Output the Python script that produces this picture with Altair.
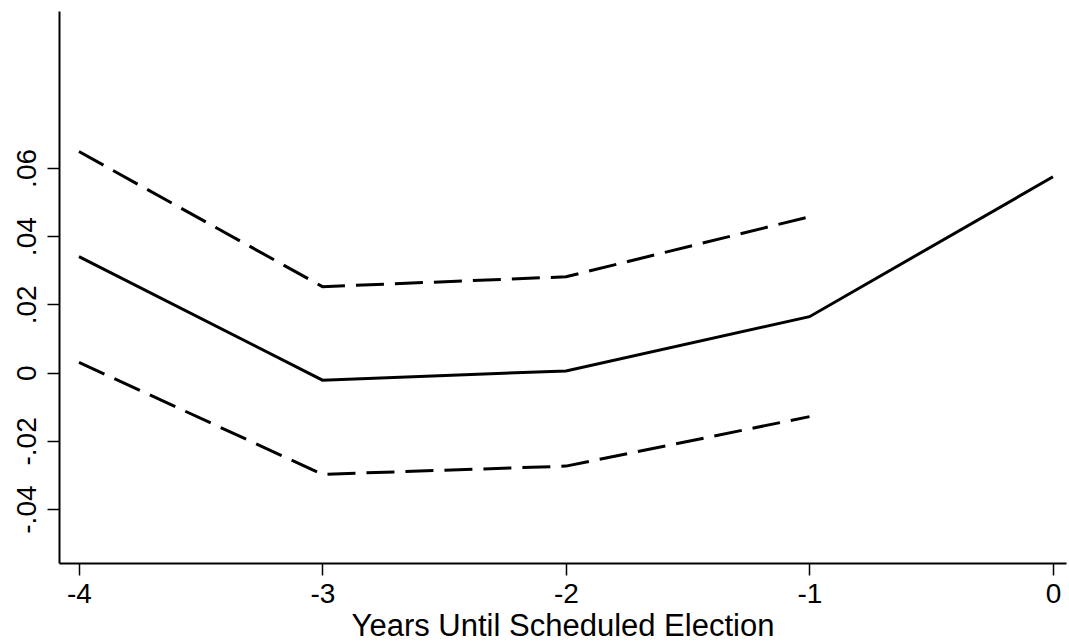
import altair as alt
import pandas as pd

years = [-4, -3, -2, -1, 0]
estimate = [0.0340, -0.0022, 0.0005, 0.0164, 0.0574]
ci_years = [-4, -3, -2, -1]
upper = [0.0648, 0.0252, 0.0281, 0.0457]
lower = [0.0030, -0.0298, -0.0274, -0.0129]

x_ticks = [-4, -3, -2, -1, 0]
y_ticks = [-0.04, -0.02, 0, 0.02, 0.04, 0.06]
x_title = "Years Until Scheduled Election"

FONT = "'Liberation Sans Narrow', 'Arial Narrow', 'Liberation Sans', Arial, sans-serif"

est_df = pd.DataFrame({"year": years, "value": estimate})
ci_df = pd.DataFrame({"year": ci_years * 2,
                      "value": upper + lower,
                      "band": ["upper"] * len(ci_years) + ["lower"] * len(ci_years)})

x_scale = alt.Scale(domain=[-4.082, 0.0534], nice=False, zero=False)
y_scale = alt.Scale(domain=[-0.0558, 0.106], nice=False, zero=False)

x_axis = alt.Axis(values=x_ticks, title=x_title, grid=False,
                  labelExpr="'' + datum.value",
                  labelFontSize=28, titleFontSize=31, titleFontWeight="normal",
                  labelFont=FONT, titleFont=FONT, labelColor="black", titleColor="black",
                  tickSize=12, tickWidth=1.5, tickColor="black",
                  domainColor="black", domainWidth=2, labelPadding=5, titlePadding=3)
y_axis = alt.Axis(values=y_ticks, title=None, grid=False,
                  labelExpr="datum.value == 0 ? '0' : (datum.value < 0 ? '-' : '') + replace(format(abs(datum.value), '.2f'), '0.', '.')",
                  labelAngle=270, labelAlign="center", labelBaseline="bottom",
                  labelFontSize=28, labelFont=FONT, labelColor="black",
                  tickSize=12, tickWidth=1.5, tickColor="black",
                  domainColor="black", domainWidth=2, labelPadding=6)

est = alt.Chart(est_df).mark_line(color="black", strokeWidth=3).encode(
    x=alt.X("year:Q", scale=x_scale, axis=x_axis),
    y=alt.Y("value:Q", scale=y_scale, axis=y_axis),
)
ci = alt.Chart(ci_df).mark_line(color="black", strokeWidth=3, strokeDash=[28, 11]).encode(
    x=alt.X("year:Q", scale=x_scale),
    y=alt.Y("value:Q", scale=y_scale),
    detail="band:N",
)

chart = (est + ci).properties(
    width=1007, height=552,
    autosize=alt.AutoSizeParams(type="none"),
    padding={"left": 59, "top": 11, "right": 3, "bottom": 79},
    background="white",
).configure_view(stroke=None)

chart.save("out.html", embed_options={"renderer": "svg", "actions": False})
